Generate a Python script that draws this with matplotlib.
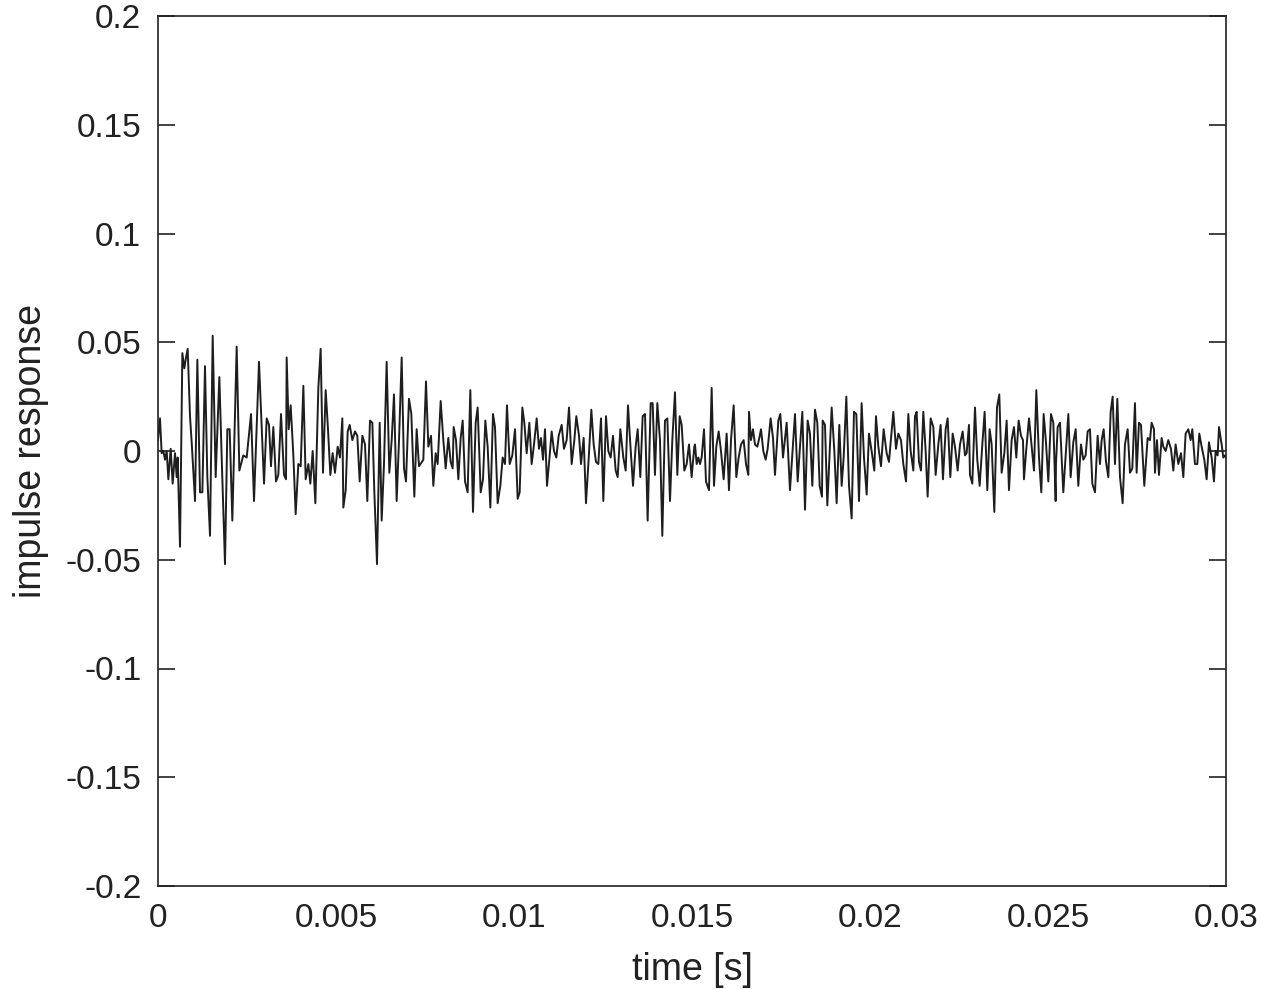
import matplotlib
matplotlib.use("Agg")
import matplotlib.pyplot as plt
import numpy as np

plt.rcParams['font.family'] = ['Liberation Sans', 'DejaVu Sans']
plt.rcParams['axes.unicode_minus'] = False

# time (ms) of each turning point of the response, and its value
t_ms = [
    0.0, 0.056, 0.103, 0.150, 0.197, 0.244, 0.291, 0.356, 0.412, 0.478, 0.525, 0.553, 0.618, 0.684, 0.740, 0.787,
    0.834, 0.899, 0.946, 1.040, 1.105, 1.180, 1.246, 1.320, 1.386, 1.461, 1.536, 1.620, 1.723, 1.789, 1.882, 1.948,
    2.013, 2.088, 2.210, 2.285, 2.397,
    2.491, 2.613, 2.697, 2.837, 2.978, 3.053, 3.118, 3.174, 3.240, 3.315, 3.380, 3.455, 3.540, 3.596, 3.614, 3.671,
    3.727, 3.802, 3.867, 3.942, 4.008, 4.083, 4.148, 4.223, 4.279, 4.345, 4.420, 4.504, 4.569, 4.635, 4.710, 4.775,
    4.841, 4.906,
    4.972, 5.047, 5.112, 5.178, 5.206, 5.272, 5.328, 5.384, 5.459, 5.534, 5.599, 5.665, 5.740, 5.815, 5.880, 5.955,
    6.021, 6.077, 6.152, 6.227, 6.283, 6.348, 6.423, 6.498, 6.564, 6.629, 6.704, 6.770, 6.845, 6.910, 6.966, 7.050,
    7.116, 7.200, 7.266, 7.331, 7.453,
    7.528, 7.594, 7.669, 7.734, 7.800, 7.856, 7.940, 8.015, 8.081, 8.155, 8.221, 8.277, 8.305, 8.371, 8.436, 8.502,
    8.558, 8.624, 8.698, 8.773, 8.848, 8.923, 8.979, 9.064, 9.129, 9.195, 9.260, 9.335, 9.410, 9.466, 9.541, 9.616,
    9.682, 9.747, 9.803, 9.878, 9.953,
    10.028, 10.103, 10.159, 10.234, 10.290, 10.356, 10.431, 10.496, 10.562, 10.637, 10.702, 10.758, 10.815, 10.871,
    10.927, 10.992, 11.058, 11.123, 11.189, 11.255, 11.339, 11.404, 11.479, 11.545, 11.620, 11.695, 11.751, 11.826,
    11.882, 11.957, 12.022, 12.107, 12.172, 12.238, 12.303, 12.369, 12.444, 12.509,
    12.584, 12.650, 12.715, 12.781, 12.856, 12.912, 12.987, 13.071, 13.137, 13.202, 13.268, 13.343, 13.417, 13.474,
    13.548, 13.614, 13.680, 13.754, 13.839, 13.895, 13.960, 14.026, 14.101, 14.166, 14.241, 14.307, 14.382, 14.447,
    14.522, 14.588, 14.653, 14.710, 14.784, 14.850, 14.915, 14.990, 15.065,
    15.084, 15.131, 15.178, 15.224, 15.271, 15.337, 15.393, 15.477, 15.552, 15.618, 15.683, 15.749, 15.814, 15.889,
    15.973, 16.039, 16.095, 16.170, 16.245, 16.311, 16.376, 16.451, 16.517, 16.582, 16.601, 16.657, 16.713, 16.769,
    16.835, 16.891, 16.938, 17.003, 17.069, 17.125, 17.209, 17.275, 17.331, 17.425, 17.481, 17.556,
    17.659, 17.752, 17.893, 17.968, 18.099, 18.174, 18.249, 18.314, 18.380, 18.455, 18.520, 18.586, 18.651, 18.670,
    18.736, 18.801, 18.923, 18.998, 19.063, 19.138, 19.204, 19.260, 19.335, 19.410, 19.485, 19.550, 19.616, 19.691,
    19.765, 19.831, 19.906, 19.971, 20.046, 20.121,
    20.168, 20.234, 20.309, 20.383, 20.468, 20.533, 20.655, 20.730, 20.795, 20.870, 20.936, 21.011, 21.076, 21.142,
    21.217, 21.264, 21.310, 21.376, 21.432, 21.498, 21.563, 21.619, 21.704, 21.779, 21.844, 21.919, 21.984, 22.050,
    22.125, 22.181, 22.256, 22.322, 22.387, 22.462, 22.528, 22.602,
    22.668, 22.715, 22.780, 22.808, 22.874, 22.949, 23.014, 23.080, 23.155, 23.220, 23.295, 23.361, 23.417, 23.492,
    23.567, 23.632, 23.698, 23.773, 23.838, 23.904, 23.979, 24.044, 24.110, 24.175, 24.241, 24.297, 24.325, 24.391,
    24.466, 24.541, 24.606, 24.672, 24.747, 24.812, 24.878, 24.943, 25.009, 25.084, 25.149, 25.215,
    25.224, 25.271, 25.336, 25.430, 25.571, 25.636, 25.711, 25.777, 25.851, 25.926, 25.992, 26.057, 26.114, 26.179,
    26.245, 26.320, 26.394, 26.460, 26.507, 26.563, 26.629, 26.694, 26.760, 26.816, 26.881, 26.947, 27.022, 27.097,
    27.162, 27.237, 27.303, 27.368, 27.443, 27.490, 27.555, 27.612, 27.705,
    27.799, 27.864, 27.911, 27.977, 28.005, 28.061, 28.117, 28.192, 28.239, 28.305, 28.379, 28.454, 28.520, 28.585,
    28.660, 28.735, 28.801, 28.866, 28.941, 29.007, 29.054, 29.128, 29.194, 29.250, 29.316, 29.391, 29.456, 29.522,
    29.597, 29.662, 29.709, 29.765, 29.803, 29.878, 29.924, 29.971, 30.000,
]
response = [
    0.005, 0.015, -0.001, 0.000, -0.004, 0.000, -0.013, 0.001, -0.015, -0.001, -0.012, -0.003, -0.044, 0.045, 0.038, 0.043,
    0.047, 0.016, 0.004, -0.023, 0.042, -0.019, -0.019, 0.039, -0.012, -0.039, 0.053, -0.012, 0.034, -0.003, -0.052, 0.010,
    0.010, -0.032, 0.048, -0.009, -0.002,
    -0.003, 0.017, -0.023, 0.041, -0.015, 0.015, 0.012, -0.007, 0.011, -0.014, -0.011, 0.017, -0.011, -0.013, 0.043, 0.010,
    0.021, -0.002, -0.029, -0.006, -0.007, 0.030, -0.013, -0.006, -0.015, 0.000, -0.024, 0.029, 0.047, -0.010, 0.028, 0.010,
    -0.011, -0.001,
    -0.010, 0.002, -0.003, 0.015, -0.026, -0.018, 0.009, 0.012, 0.005, 0.009, 0.007, -0.014, 0.007, 0.003, -0.023, 0.014,
    0.013, -0.019, -0.052, 0.013, -0.032, -0.006, 0.041, -0.010, 0.005, 0.026, -0.023, 0.005, 0.043, -0.008, -0.014, 0.024,
    0.017, -0.021, 0.010, -0.007, -0.004,
    0.032, 0.002, 0.007, -0.016, -0.001, -0.006, 0.023, 0.005, -0.008, 0.006, -0.005, -0.008, 0.011, 0.005, -0.013, 0.006,
    0.014, -0.014, -0.019, 0.028, -0.028, 0.013, 0.020, -0.019, -0.013, 0.014, 0.002, -0.026, 0.017, 0.011, -0.024, -0.016,
    -0.003, -0.006, 0.021, -0.006, -0.002,
    0.010, -0.022, -0.019, 0.020, 0.013, -0.001, 0.013, -0.006, 0.003, 0.015, 0.001, 0.006, -0.004, 0.010,
    -0.016, -0.004, 0.009, 0.000, -0.003, 0.007, 0.012, 0.001, 0.005, 0.020, -0.006, 0.005, 0.016, 0.007,
    -0.006, 0.006, -0.024, -0.001, 0.019, 0.003, -0.005, -0.006, 0.015, -0.023,
    0.016, 0.000, -0.003, 0.007, -0.009, -0.012, 0.010, -0.003, -0.009, 0.021, 0.003, -0.016, 0.002, 0.010,
    -0.012, 0.016, 0.017, -0.032, 0.022, 0.022, -0.011, 0.022, 0.005, -0.039, 0.014, 0.015, -0.023, 0.005,
    0.027, -0.011, 0.016, 0.012, -0.009, -0.006, 0.003, -0.012, 0.002,
    0.003, -0.006, -0.003, -0.006, -0.003, 0.010, -0.014, -0.018, 0.029, -0.016, 0.002, 0.009, 0.000, -0.013,
    0.008, -0.018, 0.005, 0.021, -0.012, -0.003, 0.003, 0.005, -0.006, -0.011, 0.018, 0.005, 0.010, 0.003,
    0.002, 0.006, 0.010, 0.000, -0.004, 0.001, 0.015, 0.006, -0.011, 0.014, 0.017, -0.003,
    0.013, -0.018, 0.017, -0.014, 0.018, -0.027, 0.014, 0.008, -0.016, 0.019, 0.013, -0.016, -0.021, 0.014,
    0.012, -0.025, 0.020, 0.000, -0.024, 0.012, -0.016, -0.003, 0.025, -0.016, -0.031, 0.018, 0.017, -0.023,
    0.022, -0.003, -0.020, 0.008, 0.000, -0.009,
    0.016, 0.002, -0.007, 0.010, -0.001, -0.005, 0.018, 0.001, 0.008, 0.005, -0.006, -0.014, 0.017, 0.000,
    -0.009, 0.016, 0.018, -0.005, -0.009, 0.018, 0.000, -0.021, 0.015, 0.011, -0.011, 0.003, 0.012, -0.013,
    0.010, 0.015, -0.012, 0.008, 0.002, -0.009, 0.003, 0.009,
    -0.002, -0.001, 0.012, -0.011, -0.015, 0.020, -0.004, -0.016, 0.003, 0.018, -0.018, 0.010, 0.003, -0.028,
    0.020, 0.026, -0.010, -0.001, 0.014, -0.018, 0.005, 0.011, -0.003, 0.014, 0.007, 0.005, -0.013, 0.001,
    0.015, 0.002, -0.009, 0.028, -0.003, -0.019, 0.017, 0.004, -0.014, 0.017, 0.013, -0.023,
    -0.006, 0.011, 0.013, -0.019, 0.017, -0.012, 0.004, 0.010, -0.016, 0.003, -0.004, -0.002, 0.009, 0.010,
    -0.015, -0.019, 0.007, -0.006, 0.005, 0.010, -0.005, -0.012, 0.018, 0.025, -0.006, 0.024, -0.012, -0.024,
    0.003, 0.010, -0.010, -0.008, 0.022, -0.010, 0.013, 0.012, -0.016,
    0.006, 0.005, 0.013, 0.010, -0.010, 0.005, -0.011, 0.006, 0.002, 0.000, 0.005, 0.001, -0.009, 0.003,
    -0.006, -0.001, -0.012, 0.008, 0.010, 0.005, 0.010, -0.006, -0.006, 0.008, 0.002, -0.004, -0.013, 0.004,
    -0.003, -0.014, 0.000, -0.002, 0.011, 0.003, -0.003, -0.002, -0.003,
]

x_ticks = [0, 0.005, 0.01, 0.015, 0.02, 0.025, 0.03]
x_tick_labels = ['0', '0.005', '0.01', '0.015', '0.02', '0.025', '0.03']
y_ticks = [-0.2, -0.15, -0.1, -0.05, 0, 0.05, 0.1, 0.15, 0.2]
y_tick_labels = ['-0.2', '-0.15', '-0.1', '-0.05', '0', '0.05', '0.1', '0.15', '0.2']

t_s = np.array(t_ms) / 1000.0

fig = plt.figure(figsize=(12.61, 9.89), dpi=100)
ax = fig.add_axes([158 / 1261, 1 - 886 / 989, (1226 - 158) / 1261, (886 - 16) / 989])
ax.plot(t_s, response, color='#1e1e1e', linewidth=1.4)

ax.set_xlim(0, 0.03)
ax.set_ylim(-0.2, 0.2)
ax.set_xticks(x_ticks)
ax.set_xticklabels(x_tick_labels)
ax.set_yticks(y_ticks)
ax.set_yticklabels(y_tick_labels)
ax.tick_params(axis='y', direction='in', length=12, width=1.2, right=True,
               labelsize=24, pad=12, color='#222222', labelcolor='#222222')
ax.tick_params(axis='x', direction='in', length=0, top=False,
               labelsize=24, pad=12, labelcolor='#222222')
for s in ax.spines.values():
    s.set_linewidth(1.2)
    s.set_color('#222222')
ax.set_xlabel('time [s]', fontsize=27, color='#222222', labelpad=13)
ax.set_ylabel('impulse response', fontsize=27, color='#222222', labelpad=12)

fig.savefig('out.png', dpi=100)
